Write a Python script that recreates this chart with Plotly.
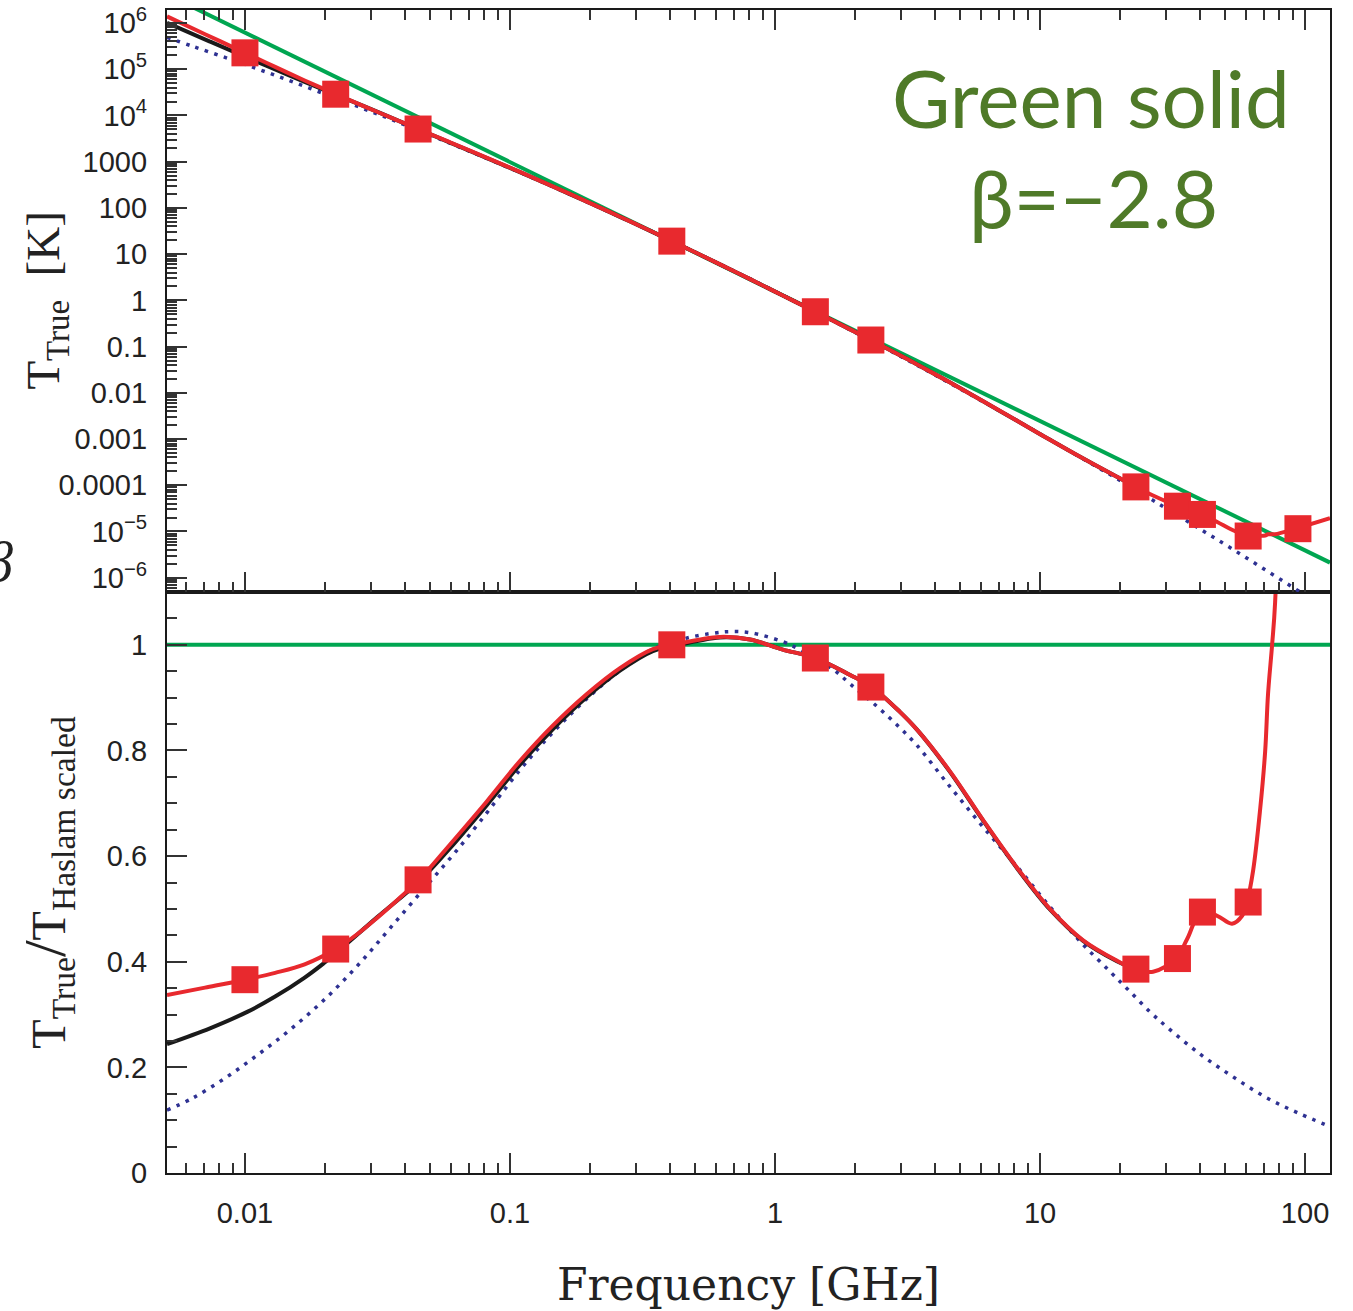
import numpy as np
import plotly.graph_objects as go

# Reference spectrum: 408 MHz Haslam map scaled with one spectral index
NU_REF = 0.408      # GHz
T_REF = 19.1        # K at 408 MHz
BETA = -2.8

# Survey frequencies [GHz] and T_true / T_Haslam,scaled at each survey
mark_nu = [0.010, 0.022, 0.045, 0.408, 1.42, 2.3, 23.0, 33.0, 41.0, 61.0, 94.0]
mark_ratio = [0.366, 0.424, 0.555, 1.000, 0.975, 0.920, 0.386, 0.406, 0.494, 0.513, 2.48]

# Red model (fit through all surveys)
red_nu = [0.00508, 0.00707, 0.0100, 0.0130, 0.0168, 0.0220, 0.0265, 0.0315, 0.0378,
          0.0454, 0.0594, 0.0819, 0.109, 0.145, 0.195, 0.260, 0.346, 0.408, 0.620,
          0.805, 1.07, 1.42, 1.92, 2.32, 2.96, 3.44, 4.58, 6.10, 8.19, 10.9, 14.5,
          19.5, 22.8, 26.7, 32.6, 35.9, 40.5, 46.6, 53.0, 57.9, 60.4, 63.7, 67.7,
          70.7, 72.5, 75.1, 77.1, 93.3, 124.2]
red_ratio = [0.337, 0.351, 0.366, 0.379, 0.395, 0.424, 0.452, 0.483, 0.518,
             0.555, 0.622, 0.704, 0.780, 0.847, 0.907, 0.956, 0.992, 1.000, 1.015,
             1.010, 0.991, 0.975, 0.943, 0.920, 0.873, 0.839, 0.760, 0.668, 0.578, 0.500, 0.441,
             0.402, 0.386, 0.381, 0.406, 0.443, 0.494, 0.487, 0.472, 0.487, 0.513, 0.573, 0.689,
             0.798, 0.907, 1.000, 1.081, 2.48, 9.1]

# Black model
black_nu = [0.00508, 0.00738, 0.0102, 0.0130, 0.0168, 0.0197, 0.0220, 0.0315, 0.0454,
            0.0594, 0.0819, 0.109, 0.145, 0.195, 0.260, 0.346, 0.408, 0.620, 0.805, 1.07,
            1.42, 1.92, 2.32, 2.96, 3.44, 4.58, 6.10, 8.19, 10.9, 14.5, 19.5, 22.8]
black_ratio = [0.244, 0.274, 0.305, 0.334, 0.370, 0.396, 0.416, 0.484, 0.552,
               0.615, 0.697, 0.773, 0.840, 0.901, 0.951, 0.988, 0.997, 1.014, 1.010, 0.991,
               0.975, 0.943, 0.920, 0.873, 0.839, 0.759, 0.667, 0.577, 0.499, 0.440, 0.401, 0.386]

# Blue dotted model
blue_nu = [0.00508, 0.00636, 0.00855, 0.0114, 0.0152, 0.0204, 0.0272, 0.0362, 0.0486,
           0.0609, 0.0770, 0.109, 0.145, 0.195, 0.260, 0.346, 0.466, 0.604, 0.676, 0.805,
           1.07, 1.24, 1.66, 1.92, 2.43, 2.96, 3.44, 4.58, 6.10, 8.19, 10.9, 14.2, 18.4,
           21.9, 26.0, 30.2, 40.2, 53.5, 71.9, 95.7, 124.2]
blue_ratio = [0.119, 0.142, 0.182, 0.227, 0.276, 0.333, 0.398, 0.470, 0.545,
              0.602, 0.665, 0.763, 0.834, 0.898, 0.951, 0.992, 1.013, 1.023, 1.025, 1.023,
              1.006, 0.991, 0.953, 0.926, 0.883, 0.843, 0.809, 0.731, 0.655, 0.580, 0.504, 0.438, 0.381,
              0.343, 0.305, 0.276, 0.225, 0.182, 0.142, 0.112, 0.088]

# Green: pure power law across the whole frequency window
green_nu = [0.00508, 124.2]
green_ratio = [1.0, 1.0]

# Axes ticks
x_major = [0.01, 0.1, 1, 10, 100]
x_labels = ["0.01", "0.1", "1", "10", "100"]
y_top_major = [10.0 ** p for p in range(-6, 7)]
y_top_labels = ["10<sup>\u22126</sup>", "10<sup>\u22125</sup>", "0.0001", "0.001", "0.01",
                "0.1", "1", "10", "100", "1000", "10<sup>4</sup>", "10<sup>5</sup>",
                "10<sup>6</sup>"]
y_bot_major = [0, 0.2, 0.4, 0.6, 0.8, 1.0]
y_bot_labels = ["0", "0.2", "0.4", "0.6", "0.8", "1"]


def haslam_scaled(nu):
    return T_REF * (np.asarray(nu, dtype=float) / NU_REF) ** BETA


def temps(nu, ratio):
    return (np.asarray(ratio) * haslam_scaled(nu)).tolist()


x_minor = [k * 10.0 ** p for p in range(-3, 3) for k in range(2, 10)]
y_top_minor = [k * 10.0 ** p for p in range(-7, 7) for k in range(2, 10)]
y_bot_minor = [round(0.05 * i, 2) for i in range(0, 23)]

RED = "#e8292e"
GREEN = "#00a651"
BLUE = "#2e3192"
BLACK = "#1a1a1a"

fig = go.Figure()

for xa, ya, top in (("x2", "y2", True), ("x", "y", False)):
    def yv(nu, ratio):
        return temps(nu, ratio) if top else ratio

    fig.add_trace(go.Scatter(x=green_nu, y=yv(green_nu, green_ratio), mode="lines",
                             line=dict(color=GREEN, width=4), xaxis=xa, yaxis=ya))
    fig.add_trace(go.Scatter(x=blue_nu, y=yv(blue_nu, blue_ratio), mode="lines",
                             line=dict(color=BLUE, width=3.5, dash="3.5px,6.5px", shape="spline"),
                             xaxis=xa, yaxis=ya))
    fig.add_trace(go.Scatter(x=black_nu, y=yv(black_nu, black_ratio), mode="lines",
                             line=dict(color=BLACK, width=4, shape="spline"),
                             xaxis=xa, yaxis=ya))
    fig.add_trace(go.Scatter(x=red_nu, y=yv(red_nu, red_ratio), mode="lines",
                             line=dict(color=RED, width=4, shape="spline"),
                             xaxis=xa, yaxis=ya))
    fig.add_trace(go.Scatter(x=mark_nu, y=yv(mark_nu, mark_ratio), mode="markers",
                             marker=dict(symbol="square", size=27, color=RED,
                                         line=dict(width=0)),
                             xaxis=xa, yaxis=ya))

SPLIT = 0.49957
tick_font = dict(family="Liberation Sans, Arial, sans-serif", size=29, color="#222")
line_common = dict(showline=True, linecolor=BLACK, linewidth=2.2, showgrid=False,
                   zeroline=False, ticks="inside", ticklen=20, tickwidth=1.6,
                   tickcolor="#333", automargin=False, tickfont=tick_font)
x_common = dict(type="log", range=[np.log10(green_nu[0]), np.log10(green_nu[1])],
                domain=[0, 1], tickmode="array", tickvals=x_major, ticktext=x_labels,
                minor=dict(tickmode="array", tickvals=x_minor, ticks="inside", ticklen=10,
                           tickwidth=1.6, tickcolor="#333", showgrid=False),
                **line_common)

fig.update_layout(
    width=1353, height=1311,
    margin=dict(l=167, r=23, t=10, b=138, pad=0),
    paper_bgcolor="white", plot_bgcolor="white",
    showlegend=False, template="none",
    xaxis=dict(anchor="y", mirror=True, ticklabelstandoff=13, **x_common),
    xaxis2=dict(anchor="y2", matches="x", mirror="ticks", showticklabels=False, **x_common),
    yaxis=dict(anchor="x", domain=[0, SPLIT], range=[0, 1.1], mirror=True,
               tickmode="array", tickvals=y_bot_major, ticktext=y_bot_labels,
               minor=dict(tickmode="array", tickvals=y_bot_minor, ticks="inside",
                          ticklen=10, tickwidth=1.6, tickcolor="#333", showgrid=False),
               ticklabelstandoff=12, **line_common),
    yaxis2=dict(anchor="x2", domain=[SPLIT, 1], type="log", range=[-6.309, 6.281],
                mirror=True, tickmode="array", tickvals=y_top_major, ticktext=y_top_labels,
                minor=dict(tickmode="array", tickvals=y_top_minor, ticks="inside",
                           ticklen=10, tickwidth=1.6, tickcolor="#333", showgrid=False),
                ticklabelstandoff=12, **line_common),
)

serif = "Liberation Serif, Times New Roman, serif"
fig.add_annotation(text="T<sub>True</sub>\u00a0\u00a0[K]", textangle=-90,
                   xref="paper", yref="paper", x=-0.1035, y=0.7498,
                   xanchor="center", yanchor="middle", showarrow=False,
                   font=dict(family=serif, size=47, color="#222"))
fig.add_annotation(text="T<sub>True</sub><span style=\"font-size:60px\">/</span>"
                        "T<sub>Haslam\u00a0scaled</sub>", textangle=-90,
                   xref="paper", yref="paper", x=-0.1035, y=0.2502,
                   xanchor="center", yanchor="middle", showarrow=False,
                   font=dict(family=serif, size=48, color="#222"))
fig.add_annotation(text="Frequency [GHz]", xref="paper", yref="paper",
                   x=0.5, y=-0.0955, xanchor="center", yanchor="middle", showarrow=False,
                   font=dict(family="DejaVu Serif, serif", size=44, color="#222"))
fig.add_annotation(text="Green solid", xref="paper", yref="paper",
                   x=0.7945, y=(1173 - 97) / 1163, xanchor="center", yanchor="middle",
                   showarrow=False,
                   font=dict(family="Lato, Open Sans, sans-serif", size=80, color="#4f7a28"))
fig.add_annotation(text="\u03b2=\u22122.8", xref="paper", yref="paper",
                   x=0.7963, y=(1173 - 197) / 1163, xanchor="center", yanchor="middle",
                   showarrow=False,
                   font=dict(family="Lato, Open Sans, sans-serif", size=80, color="#4f7a28"))
fig.add_annotation(text="<i>\u03b2</i>", xref="paper", yref="paper",
                   x=-0.1453, y=0.5254, xanchor="center", yanchor="middle", showarrow=False,
                   font=dict(family=serif, size=56, color="#222"))

fig.write_html("out.html", config={"displayModeBar": False})
